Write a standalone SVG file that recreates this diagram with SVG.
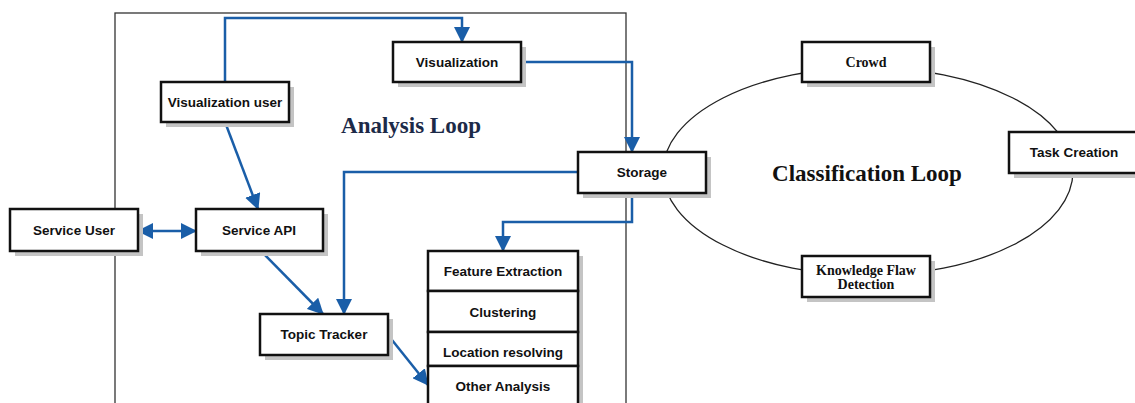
<svg xmlns="http://www.w3.org/2000/svg" width="1135" height="403" viewBox="0 0 1135 403">
<defs>
<style>
.box{fill:#fff;stroke:#111;stroke-width:2.5}
.sh{fill:#c4c4c4}
.lbl{font-family:"Liberation Sans",Arial,sans-serif;font-weight:bold;font-size:13.5px;fill:#111;text-anchor:middle}
.slbl{font-family:"Liberation Serif","Times New Roman",serif;font-weight:bold;font-size:14px;fill:#111;text-anchor:middle}
.title{font-family:"Liberation Serif","Times New Roman",serif;font-weight:bold;font-size:23px;text-anchor:middle}
.con{fill:none;stroke:#1a5ea8;stroke-width:2.5}
</style>
<marker id="ah" markerUnits="userSpaceOnUse" markerWidth="16" markerHeight="16" viewBox="0 0 16 16" refX="15" refY="8" orient="auto-start-reverse">
<path d="M0,0 L16,8 L0,16 z" fill="#1a5ea8"/>
</marker>
</defs>
<rect width="1135" height="403" fill="#fff"/>
<g id="analysis-frame">
<rect x="115" y="13" width="511" height="420" fill="none" stroke="#333" stroke-width="1.3"/>
<text class="title" x="411" y="133" fill="#1c2a48">Analysis Loop</text>
</g>
<g id="classification-loop">
<ellipse cx="868" cy="171.5" rx="205" ry="104" fill="none" stroke="#222" stroke-width="1.3"/>
<text class="title" x="867" y="181" fill="#111">Classification Loop</text>
</g>
<g id="connectors">
<path class="con" d="M225,82 V18 H462 V42" marker-end="url(#ah)"/>
<path class="con" d="M521,62 H632 V152" marker-end="url(#ah)"/>
<path class="con" d="M225,122 L258,209" marker-end="url(#ah)"/>
<path class="con" d="M138,231 H196" marker-start="url(#ah)" marker-end="url(#ah)"/>
<path class="con" d="M261,251 L323,314" marker-end="url(#ah)"/>
<path class="con" d="M578,172 H344 V314" marker-end="url(#ah)"/>
<path class="con" d="M632,193 V222 H503 V251" marker-end="url(#ah)"/>
<path class="con" d="M388,335 L428,385" marker-end="url(#ah)"/>
</g>
<g id="visualization">
<rect class="sh" x="398" y="47" width="128" height="40"/>
<rect class="box" x="393" y="42" width="128" height="40"/>
<text class="lbl" x="457" y="67">Visualization</text>
</g>
<g id="visualization-user">
<rect class="sh" x="166" y="87" width="128" height="40"/>
<rect class="box" x="161" y="82" width="128" height="40"/>
<text class="lbl" x="225" y="107">Visualization user</text>
</g>
<g id="storage">
<rect class="sh" x="583" y="157" width="128" height="41"/>
<rect class="box" x="578" y="152" width="128" height="41"/>
<text class="lbl" x="642" y="177">Storage</text>
</g>
<g id="service-user">
<rect class="sh" x="15" y="214" width="128" height="42"/>
<rect class="box" x="10" y="209" width="128" height="42"/>
<text class="lbl" x="74" y="235">Service User</text>
</g>
<g id="service-api">
<rect class="sh" x="201" y="214" width="127" height="42"/>
<rect class="box" x="196" y="209" width="127" height="42"/>
<text class="lbl" x="259" y="235">Service API</text>
</g>
<g id="topic-tracker">
<rect class="sh" x="265" y="319" width="128" height="41"/>
<rect class="box" x="260" y="314" width="128" height="41"/>
<text class="lbl" x="324" y="339">Topic Tracker</text>
</g>
<g id="analysis-stack">
<rect class="sh" x="433" y="256" width="150" height="160"/>
<rect class="box" x="428" y="251" width="150" height="40"/>
<text class="lbl" x="503" y="276">Feature Extraction</text>
<rect class="box" x="428" y="291" width="150" height="41"/>
<text class="lbl" x="503" y="317">Clustering</text>
<rect class="box" x="428" y="332" width="150" height="34"/>
<text class="lbl" x="503" y="357">Location resolving</text>
<rect class="box" x="428" y="366" width="150" height="50"/>
<text class="lbl" x="503" y="391">Other Analysis</text>
</g>
<g id="crowd">
<rect class="sh" x="807" y="47" width="128" height="40"/>
<rect class="box" x="802" y="42" width="128" height="40"/>
<text class="slbl" x="866" y="67">Crowd</text>
</g>
<g id="task-creation">
<rect class="sh" x="1014" y="137" width="130" height="41"/>
<rect class="box" x="1009" y="132" width="130" height="41"/>
<text class="lbl" x="1074" y="157">Task Creation</text>
</g>
<g id="knowledge-flaw-detection">
<rect class="sh" x="807" y="261" width="128" height="41"/>
<rect class="box" x="802" y="256" width="128" height="41"/>
<text class="slbl" x="866" y="275">Knowledge Flaw</text>
<text class="slbl" x="866" y="289">Detection</text>
</g>
</svg>
